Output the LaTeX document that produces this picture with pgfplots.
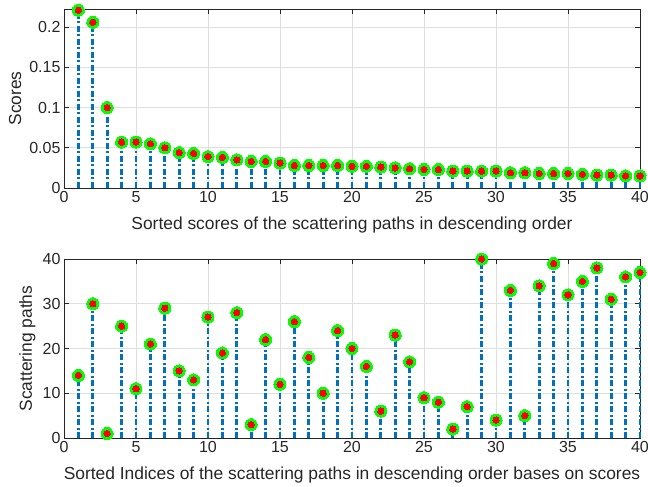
\documentclass[border=0pt]{standalone}
\usepackage{fontspec}
\setmainfont{Liberation Sans}
\usepackage{pgfplots}
\pgfplotsset{compat=1.18}
\definecolor{stemblue}{RGB}{0,114,189}
\definecolor{axgray}{RGB}{38,38,38}
\definecolor{gridc}{RGB}{223,223,223}
\definecolor{mgreen}{RGB}{0,255,0}
\pgfplotsset{
  myaxis/.style={
    scale only axis, width=576pt, height=179pt,
    xmin=0, xmax=40, xtick={0,5,...,40},
    tick align=inside, major tick length=5pt,
    xtick pos=both, ytick pos=both,
    axis line style={axgray, line width=0.7pt},
    tick style={axgray, line width=0.7pt},
    grid=major, major grid style={gridc, line width=0.6pt},
    ticklabel style={font=\fontsize{16}{18}\selectfont, text=axgray},
    label style={font=\fontsize{17.4}{19}\selectfont, text=axgray},
    /pgf/number format/assume math mode=true,
    clip=false,
  },
}
\pgfplotstableread{
x y
1 0.221
2 0.206
3 0.100
4 0.057
5 0.057
6 0.055
7 0.050
8 0.044
9 0.043
10 0.039
11 0.038
12 0.035
13 0.033
14 0.033
15 0.031
16 0.028
17 0.028
18 0.028
19 0.028
20 0.027
21 0.027
22 0.026
23 0.025
24 0.024
25 0.023
26 0.023
27 0.021
28 0.021
29 0.021
30 0.021
31 0.019
32 0.019
33 0.018
34 0.018
35 0.018
36 0.017
37 0.016
38 0.016
39 0.015
40 0.015
}\scores
\pgfplotstableread{
x y
1 14
2 30
3 1
4 25
5 11
6 21
7 29
8 15
9 13
10 27
11 19
12 28
13 3
14 22
15 12
16 26
17 18
18 10
19 24
20 20
21 16
22 6
23 23
24 17
25 9
26 8
27 2
28 7
29 40
30 4
31 33
32 5
33 34
34 39
35 32
36 35
37 38
38 31
39 36
40 37
}\paths
\begin{document}
\begin{tikzpicture}
\path[use as bounding box] (-64pt,-299pt) rectangle (584pt,188pt);
\begin{axis}[myaxis, at={(0,0)}, anchor=south west,
  ymin=0, ymax=0.2225, ytick={0,0.05,0.1,0.15,0.2},
  scaled y ticks=false,
  yticklabel style={/pgf/number format/fixed, /pgf/number format/precision=2},
  xlabel={Sorted scores of the scattering paths in descending order},
  ylabel={Scores},
  xlabel style={at={(axis description cs:0.5,0)}, anchor=center, yshift=-37pt},
  ylabel style={at={(axis description cs:-0.085,0.5)}, anchor=center},
]
\addplot[color=mgreen, only marks, mark=*, mark size=6pt, mark options={draw=mgreen, fill=mgreen, line width=0pt}] table {\scores};
\addplot[ycomb, draw=stemblue, line width=2.7pt, dash pattern=on 6pt off 2.5pt on 2pt off 2.5pt, mark=none] table {\scores};
\addplot[color=red, only marks, mark=*, mark size=3.2pt, mark options={draw=red, fill=red, line width=0pt}] table {\scores};
\end{axis}
\begin{axis}[myaxis, at={(0,-250pt)}, anchor=south west,
  ymin=0, ymax=40, ytick={0,10,...,40},
  xlabel={Sorted Indices of the scattering paths in descending order bases on scores},
  ylabel={Scattering paths},
  xlabel style={at={(axis description cs:0.5,0)}, anchor=center, yshift=-37pt},
  ylabel style={at={(axis description cs:-0.0634,0.5)}, anchor=center},
]
\addplot[color=mgreen, only marks, mark=*, mark size=6pt, mark options={draw=mgreen, fill=mgreen, line width=0pt}] table {\paths};
\addplot[ycomb, draw=stemblue, line width=2.7pt, dash pattern=on 6pt off 2.5pt on 2pt off 2.5pt, mark=none] table {\paths};
\addplot[color=red, only marks, mark=*, mark size=3.2pt, mark options={draw=red, fill=red, line width=0pt}] table {\paths};
\end{axis}
\end{tikzpicture}
\end{document}
